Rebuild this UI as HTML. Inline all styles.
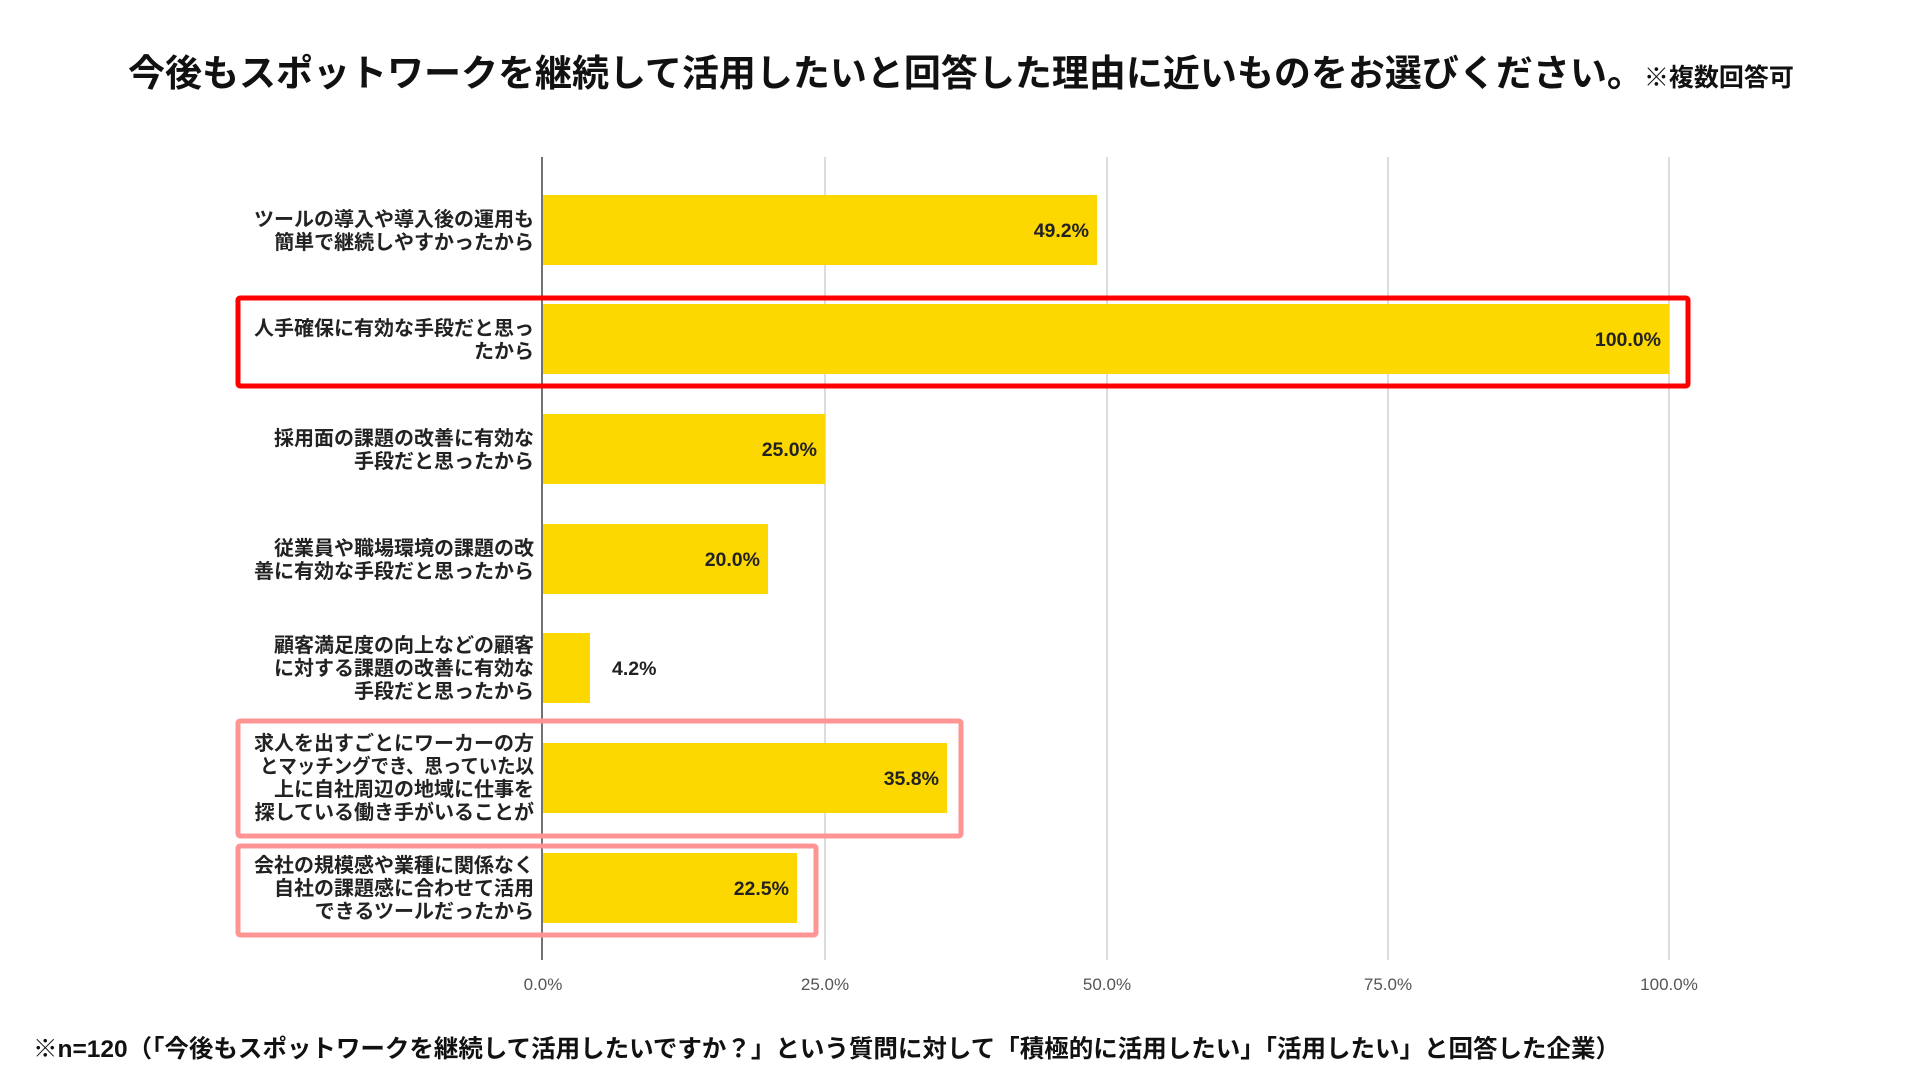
<!DOCTYPE html>
<html><head><meta charset="utf-8"><style>
html,body{margin:0;padding:0;background:#fff;}
svg{display:block;font-family:"Liberation Sans","Noto Sans CJK JP",sans-serif;}
.cat{font-size:20px;font-weight:bold;fill:#222;text-anchor:end;}
.val{font-size:19.5px;font-weight:bold;fill:#222;}
.tick{font-size:17px;fill:#555;text-anchor:middle;}
</style></head><body>
<svg width="1919" height="1080" viewBox="0 0 1919 1080">
<rect width="1919" height="1080" fill="#fff"/>
<text x="128" y="86" font-size="37" font-weight="bold" fill="#111">今後もスポットワークを継続して活用したいと回答した理由に近いものをお選びください。<tspan font-size="25">※複数回答可</tspan></text>
<g stroke="#d0d0d0" stroke-width="1.5">
<line x1="825" y1="157" x2="825" y2="960"/>
<line x1="1107" y1="157" x2="1107" y2="960"/>
<line x1="1388" y1="157" x2="1388" y2="960"/>
<line x1="1669" y1="157" x2="1669" y2="960"/>
</g>
<g fill="#FDD700">
<rect x="543" y="195" width="554" height="70"/>
<rect x="543" y="304" width="1126" height="70"/>
<rect x="543" y="414" width="282" height="70"/>
<rect x="543" y="524" width="225" height="70"/>
<rect x="543" y="633" width="47" height="70"/>
<rect x="543" y="743" width="404" height="70"/>
<rect x="543" y="853" width="254" height="70"/>
</g>
<line x1="542" y1="157" x2="542" y2="960" stroke="#444" stroke-width="1.5"/>
<g class="val" text-anchor="end">
<text x="1089" y="237">49.2%</text>
<text x="1661" y="346">100.0%</text>
<text x="817" y="456">25.0%</text>
<text x="760" y="566">20.0%</text>
<text x="612" y="675" text-anchor="start">4.2%</text>
<text x="939" y="785">35.8%</text>
<text x="789" y="895">22.5%</text>
</g>
<g class="cat">
<text x="534" y="226">ツールの導入や導入後の運用も</text>
<text x="534" y="249">簡単で継続しやすかったから</text>
<text x="534" y="335">人手確保に有効な手段だと思っ</text>
<text x="534" y="358">たから</text>
<text x="534" y="445">採用面の課題の改善に有効な</text>
<text x="534" y="468">手段だと思ったから</text>
<text x="534" y="555">従業員や職場環境の課題の改</text>
<text x="534" y="578">善に有効な手段だと思ったから</text>
<text x="534" y="652">顧客満足度の向上などの顧客</text>
<text x="534" y="675">に対する課題の改善に有効な</text>
<text x="534" y="698">手段だと思ったから</text>
<text x="534" y="750">求人を出すごとにワーカーの方</text>
<text x="534" y="773" textLength="274" lengthAdjust="spacingAndGlyphs">とマッチングでき、思っていた以</text>
<text x="534" y="796">上に自社周辺の地域に仕事を</text>
<text x="534" y="819">探している働き手がいることが</text>
<text x="534" y="872">会社の規模感や業種に関係なく</text>
<text x="534" y="895">自社の課題感に合わせて活用</text>
<text x="534" y="918">できるツールだったから</text>
</g>
<rect x="238" y="298" width="1450" height="88" fill="none" stroke="#ff0000" stroke-width="5" rx="2"/>
<rect x="238" y="721" width="723" height="115" fill="none" stroke="#ff9494" stroke-width="5" rx="2"/>
<rect x="238" y="846" width="578" height="89" fill="none" stroke="#ff9494" stroke-width="5" rx="2"/>
<g class="tick">
<text x="543" y="990">0.0%</text>
<text x="825" y="990">25.0%</text>
<text x="1107" y="990">50.0%</text>
<text x="1388" y="990">75.0%</text>
<text x="1669" y="990">100.0%</text>
</g>
<text x="33" y="1057" font-size="24.5" font-weight="bold" fill="#111">※n=120（「今後もスポットワークを継続して活用したいですか？」という質問に対して「積極的に活用したい」「活用したい」と回答した企業）</text>
</svg>
</body></html>
